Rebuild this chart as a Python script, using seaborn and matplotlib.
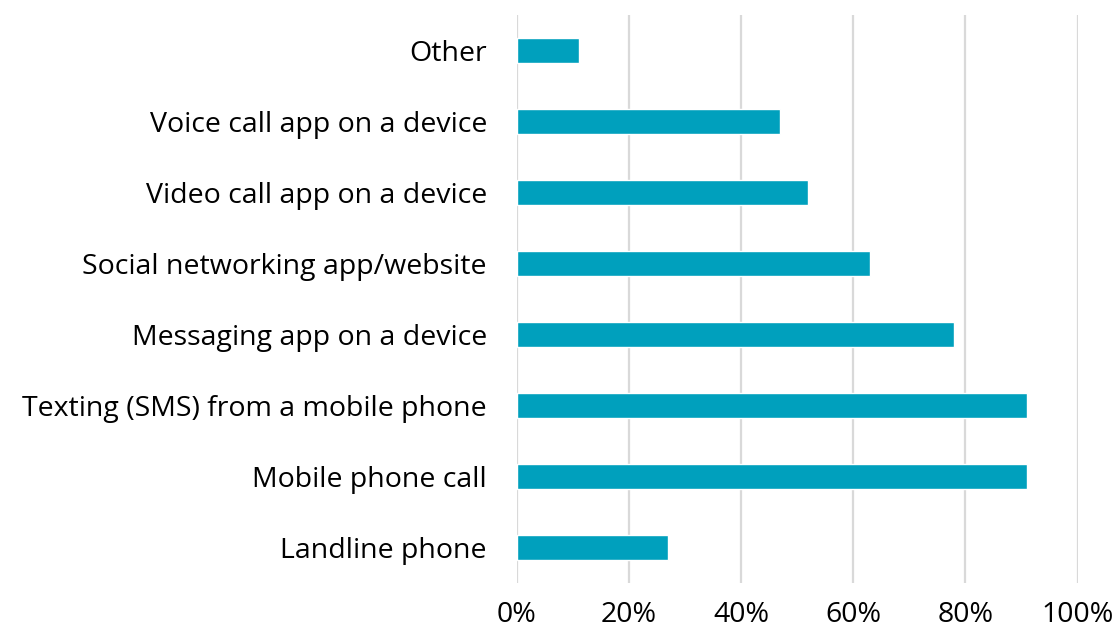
import matplotlib
matplotlib.use("Agg")
import matplotlib.pyplot as plt
import seaborn as sns
import pandas as pd
from matplotlib.ticker import PercentFormatter

categories = [
    "Other",
    "Voice call app on a device",
    "Video call app on a device",
    "Social networking app/website",
    "Messaging app on a device",
    "Texting (SMS) from a mobile phone",
    "Mobile phone call",
    "Landline phone",
]
shares = [11, 47, 52, 63, 78, 91, 91, 27]
x_ticks = [0, 20, 40, 60, 80, 100]

df = pd.DataFrame({"method": categories, "share": shares})

sns.set_theme(style="white")
plt.rcParams["font.family"] = ["Open Sans", "DejaVu Sans"]

fig = plt.figure(figsize=(11.19, 6.35), dpi=100)
ax = fig.add_axes([0.462, 0.082, 0.501, 0.894])

sns.barplot(data=df, x="share", y="method", order=categories,
            color="#00A0BD", saturation=1, width=0.35, ax=ax, zorder=3)

ax.set_xlim(0, 100)
ax.set_ylim(len(categories) - 0.5, -0.5)
ax.set_xticks(x_ticks)
ax.xaxis.set_major_formatter(PercentFormatter(decimals=0))
ax.grid(axis="x", color="#D9D9D9", linewidth=1.6, zorder=0)
ax.grid(axis="y", visible=False)
for s in ax.spines.values():
    s.set_visible(False)
ax.tick_params(axis="both", length=0, labelsize=20.5, colors="black")
ax.tick_params(axis="y", pad=21.6)
ax.tick_params(axis="x", pad=13)
ax.set_xlabel("")
ax.set_ylabel("")

fig.savefig("out.png", dpi=100)
